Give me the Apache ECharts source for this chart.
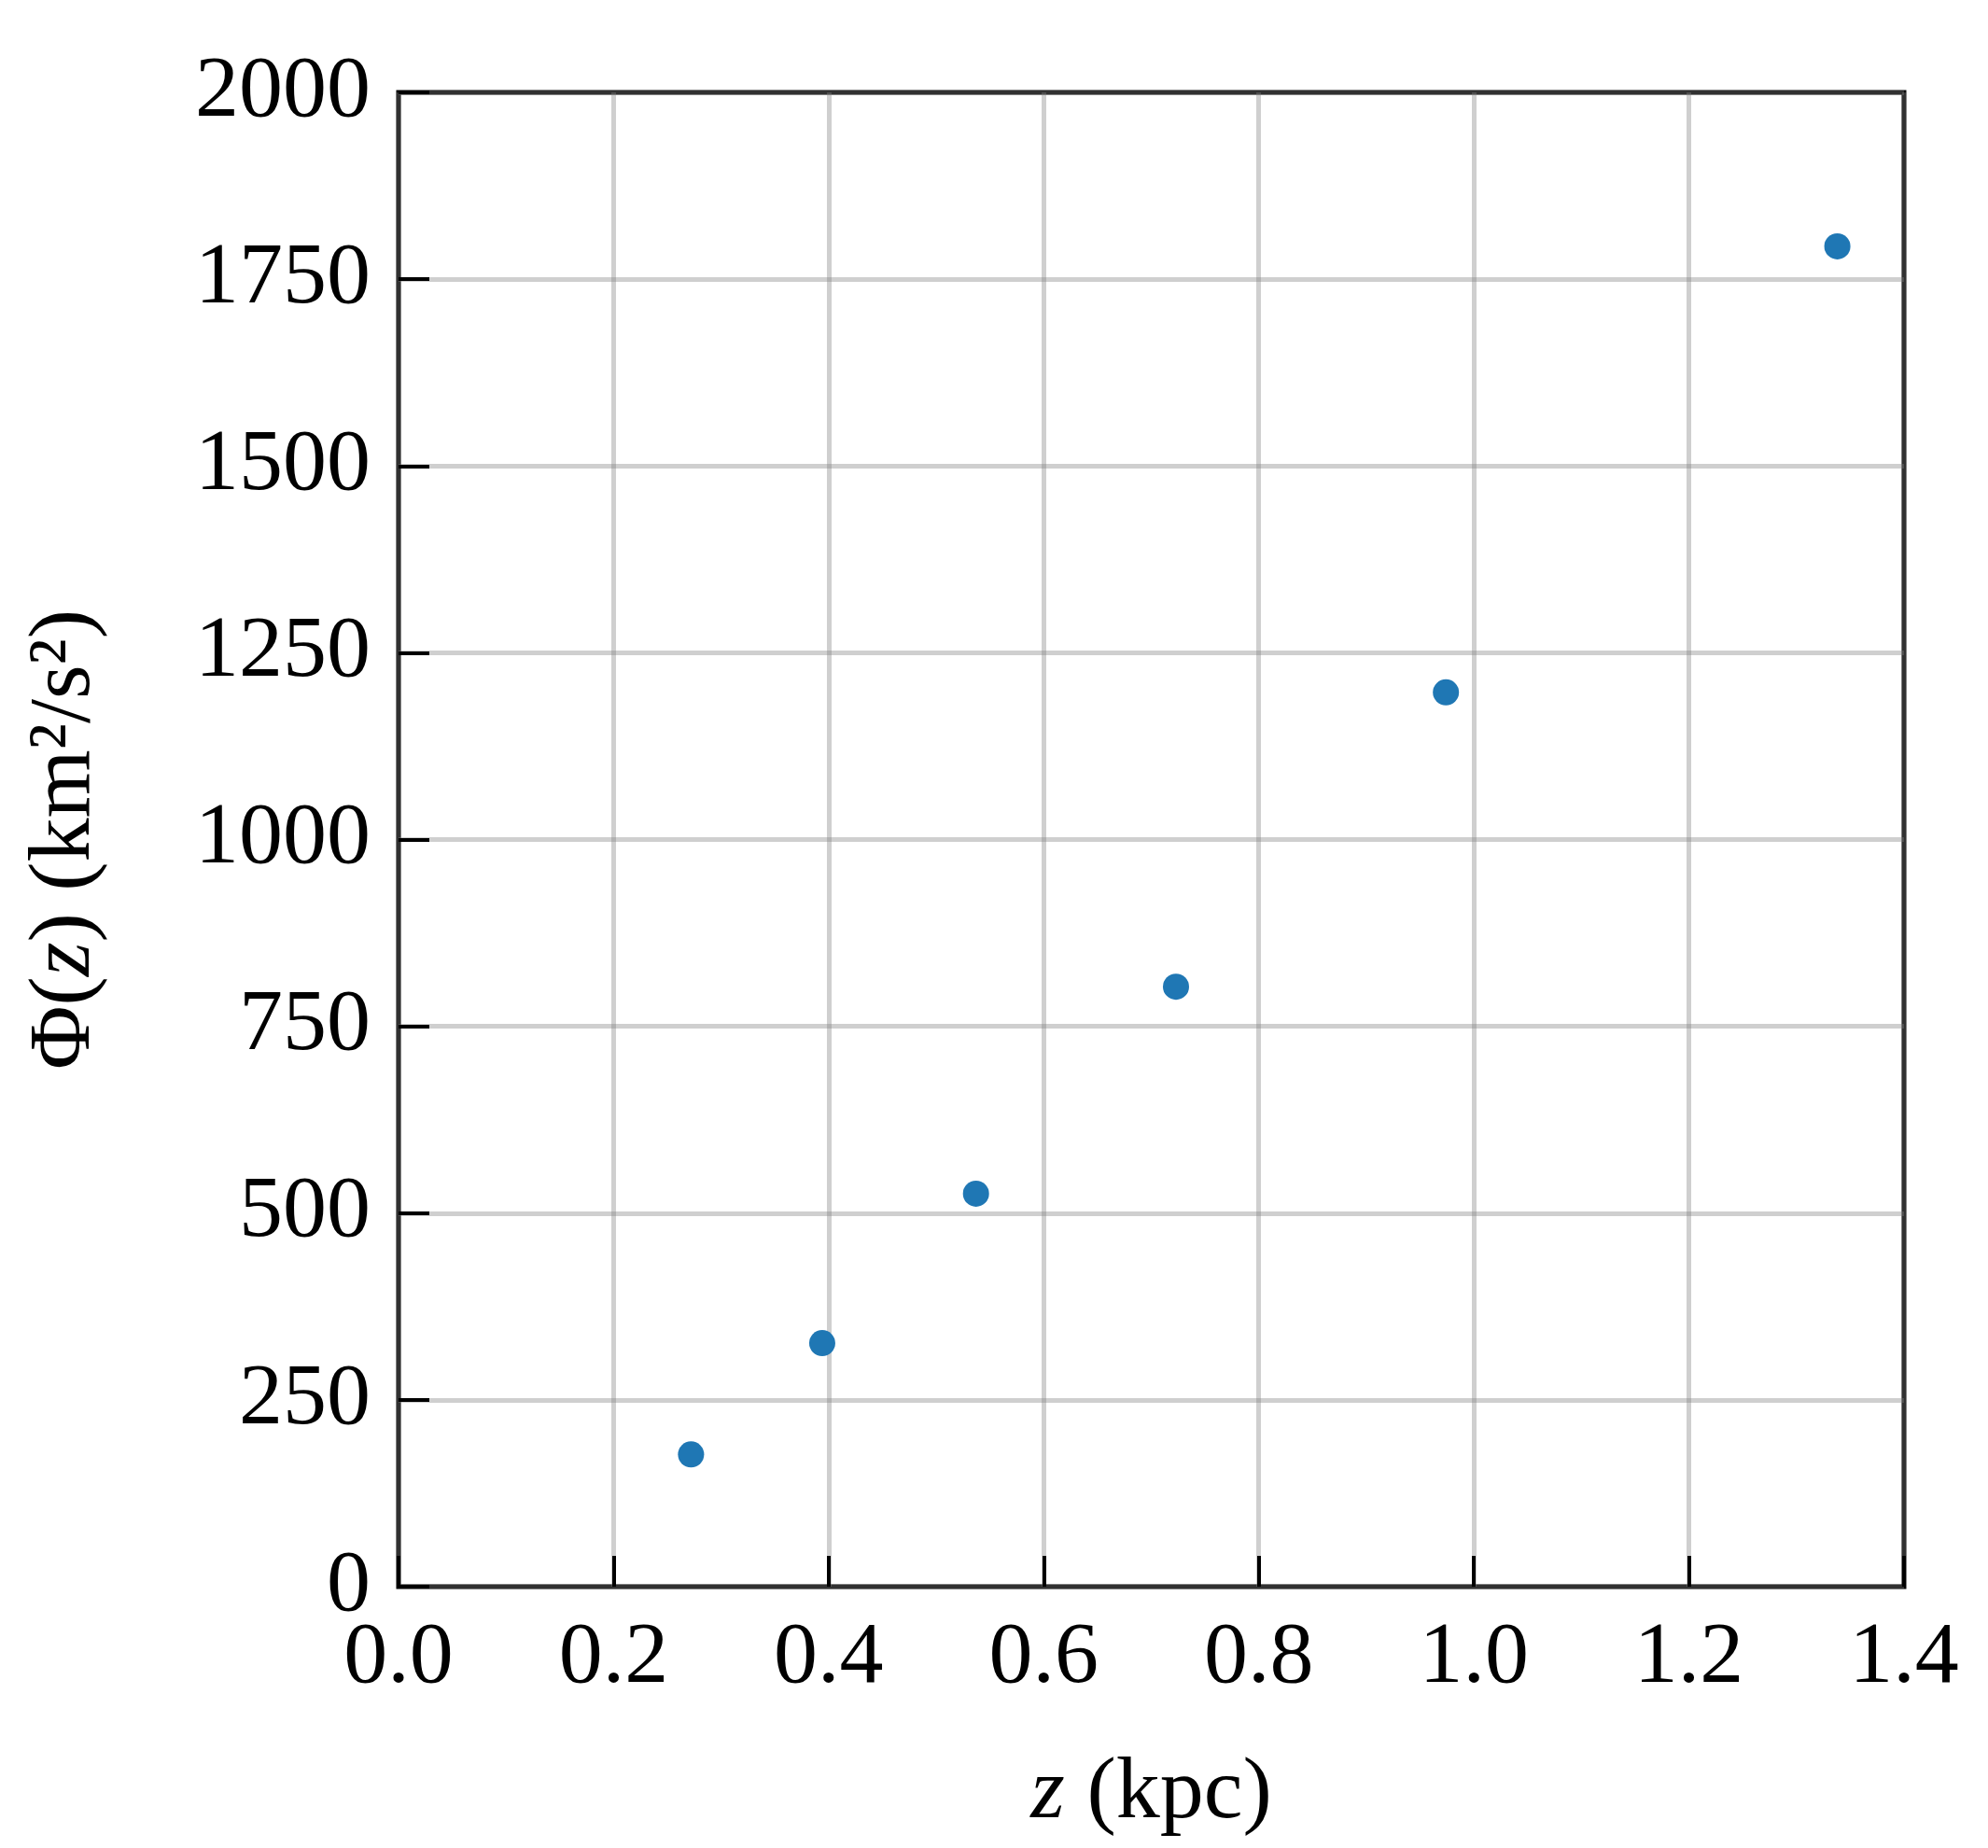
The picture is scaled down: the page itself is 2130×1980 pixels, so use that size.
<!DOCTYPE html><html><head><meta charset="utf-8"><script src="https://cdn.jsdelivr.net/npm/echarts@6/dist/echarts.min.js"></script>
<style>html,body{margin:0;background:#fff}#c{width:2130px;height:1980px}</style></head><body><div id="c"></div><script>
const zVals=[0.272,0.394,0.537,0.723,0.974,1.338];
const phiVals=[177,326,526,803,1197,1794];
const xTicks=[0,0.2,0.4,0.6,0.8,1.0,1.2,1.4];
const yTicks=[0,250,500,750,1000,1250,1500,1750,2000];
const font='"Liberation Serif","DejaVu Serif",serif';
const nameStyle={fontFamily:font,fontSize:94,color:'#000',rich:{i:{fontFamily:font,fontSize:94,fontStyle:'italic',color:'#000'}}};
const ch=echarts.init(document.getElementById('c'));
ch.setOption({animation:false,
grid:{left:427,right:90,top:99,bottom:280,show:true,borderColor:'#000',borderWidth:5,backgroundColor:'transparent'},
xAxis:{type:'value',min:0,max:1.4,interval:0.2,
 axisLine:{show:false},axisTick:{inside:true,length:33,lineStyle:{color:'#000',width:4}},
 splitLine:{lineStyle:{color:'rgba(128,128,128,0.38)',width:5}},
 axisLabel:{fontFamily:font,fontSize:94,color:'#000',margin:30,formatter:v=>v.toFixed(1)},
 name:'{i|z} (kpc)',nameLocation:'middle',nameGap:175,nameTextStyle:nameStyle},
yAxis:{type:'value',min:0,max:2000,interval:250,
 axisLine:{show:false},axisTick:{inside:true,length:33,lineStyle:{color:'#000',width:4}},
 splitLine:{lineStyle:{color:'rgba(128,128,128,0.38)',width:5}},
 axisLabel:{fontFamily:font,fontSize:94,color:'#000',margin:30,formatter:v=>String(v)},
 name:'Φ({i|z}) (km²/s²)',nameLocation:'middle',nameGap:310,nameTextStyle:nameStyle},
series:[{type:'scatter',data:zVals.map((z,i)=>[z,phiVals[i]]),symbolSize:28,itemStyle:{color:'#1f77b4',opacity:1}}]});
</script></body></html>
